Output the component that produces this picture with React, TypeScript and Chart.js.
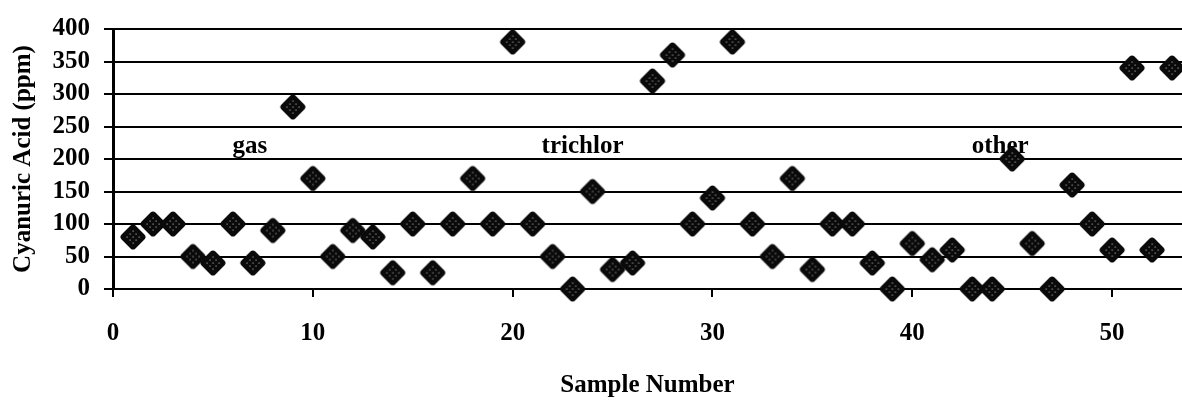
import React, { useEffect, useRef } from "react";
import { Chart, registerables } from "chart.js";

Chart.register(...registerables);

// Sample numbers and measured cyanuric acid (ppm)
const sampleNumbers = [
  1, 2, 3, 4, 5, 6, 7, 8, 9, 10, 11, 12, 13, 14, 15, 16, 17, 18, 19, 20, 21, 22, 23, 24, 25, 26, 27,
  28, 29, 30, 31, 32, 33, 34, 35, 36, 37, 38, 39, 40, 41, 42, 43, 44, 45, 46, 47, 48, 49, 50, 51, 52, 53,
];
const cyanuricAcid = [
  80, 100, 100, 50, 40, 100, 40, 90, 280, 170,
  50, 90, 80, 25, 100, 25, 100, 170, 100, 380,
  100, 50, 0, 150, 30, 40, 320, 360, 100, 140,
  380, 100, 50, 170, 30, 100, 100, 40, 0, 70,
  45, 60, 0, 0, 200, 70, 0, 160, 100, 60,
  340, 60, 340,
];

// Chlorine source group labels placed inside the plot
const groupNames = ["gas", "trichlor", "other"];
const groupX = [6.85, 23.5, 44.4];
const groupY = [210, 210, 210];

// Axis ranges and tick spacing
const xRange = [0, 53.5];
const xStep = 10;
const yRange = [0, 400];
const yStep = 50;

const FONT = '"Liberation Serif", "Times New Roman", serif';

function makeDiamond(): HTMLCanvasElement {
  const size = 30;
  const c = document.createElement("canvas");
  c.width = size;
  c.height = size;
  const g = c.getContext("2d")!;
  const cx = size / 2;
  const cy = size / 2;
  const side = 19.6;
  g.save();
  g.translate(cx, cy);
  g.rotate(Math.PI / 4);
  g.fillStyle = "#0a0a0a";
  g.beginPath();
  (g as any).roundRect(-side / 2, -side / 2, side, side, 3.5);
  g.fill();
  g.restore();
  // speckled centre
  g.fillStyle = "#9a9a9a";
  const dots = [
    [0, -6], [-3, -3], [3, -3], [-6, 0], [0, 0], [6, 0], [-3, 3], [3, 3], [0, 6],
  ];
  for (const [dx, dy] of dots) {
    g.fillRect(cx + dx - 0.5, cy + dy - 0.5, 1.2, 1.2);
  }
  return c;
}

const groupLabelPlugin = {
  id: "groupLabels",
  beforeDatasetsDraw(chart: any) {
    const { ctx, scales } = chart;
    ctx.save();
    ctx.fillStyle = "#000";
    ctx.font = `bold 25px ${FONT}`;
    ctx.textAlign = "center";
    ctx.textBaseline = "alphabetic";
    groupNames.forEach((name, i) => {
      ctx.fillText(name, scales.x.getPixelForValue(groupX[i]), scales.y.getPixelForValue(groupY[i]));
    });
    ctx.restore();
  },
};

export default function App() {
  const canvasRef = useRef<HTMLCanvasElement | null>(null);

  useEffect(() => {
    const canvas = canvasRef.current;
    if (!canvas) return;
    const marker = makeDiamond();
    const tickFont = { family: FONT, size: 25, weight: "bold" as const };

    const chart = new Chart(canvas, {
      type: "scatter",
      data: {
        datasets: [
          {
            label: "Cyanuric Acid",
            data: sampleNumbers.map((x, i) => ({ x, y: cyanuricAcid[i] })),
            pointStyle: marker as any,
            pointRadius: 14,
            showLine: false,
            clip: false as any,
          },
        ],
      },
      options: {
        animation: false,
        responsive: false,
        events: [],
        layout: { autoPadding: false, padding: { top: 17, right: 0, left: 0, bottom: 0 } },
        plugins: {
          legend: { display: false },
          tooltip: { enabled: false },
        },
        scales: {
          x: {
            type: "linear",
            position: "bottom",
            min: xRange[0],
            max: xRange[1],
            ticks: {
              stepSize: xStep,
              includeBounds: false,
              autoSkip: false,
              padding: 22,
              color: "#000",
              font: tickFont,
              maxRotation: 0,
            },
            grid: {
              drawOnChartArea: false,
              drawTicks: true,
              tickLength: 8,
              color: "#000",
              lineWidth: 2,
            },
            border: { display: true, color: "#000", width: 2 },
            title: {
              display: true,
              text: "Sample Number",
              color: "#000",
              font: tickFont,
              padding: { top: 0, bottom: 0 },
            },
            afterFit: (s: any) => {
              s.height = 112;
            },
          },
          y: {
            type: "linear",
            min: yRange[0],
            max: yRange[1],
            ticks: {
              stepSize: yStep,
              autoSkip: false,
              padding: 14,
              color: "#000",
              font: tickFont,
            },
            grid: {
              drawTicks: true,
              tickLength: 9,
              color: "#000",
              lineWidth: 2,
            },
            border: { display: true, color: "#000", width: 3 },
            title: {
              display: true,
              text: "Cyanuric Acid (ppm)",
              color: "#000",
              font: tickFont,
              padding: { top: 9, bottom: 0 },
            },
            afterFit: (s: any) => {
              s.width = 113;
            },
          },
        },
      },
      plugins: [groupLabelPlugin],
    });

    return () => chart.destroy();
  }, []);

  return (
    <div style={{ position: "absolute", left: 0, top: 0, width: 1182, height: 401, background: "#fff" }}>
      <canvas ref={canvasRef} width={1182} height={401} style={{ display: "block" }} />
    </div>
  );
}
